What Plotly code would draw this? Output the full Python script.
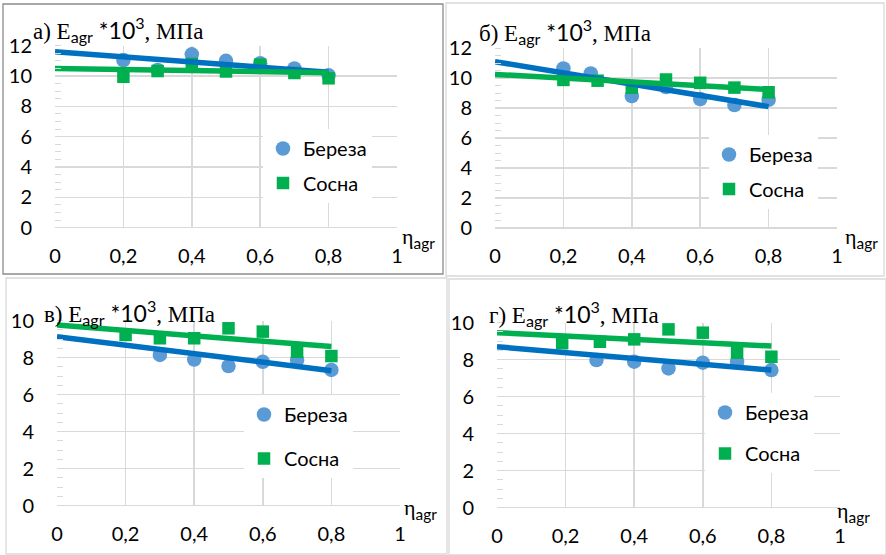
import plotly.graph_objects as go

W, H = 886, 555

# ---------------- data ----------------
panel_letters = ["а)", "б)", "в)", "г)"]
series_names = ["Береза", "Сосна"]
x_ticks = [0, 0.2, 0.4, 0.6, 0.8, 1]
x_tick_text = ["0", "0,2", "0,4", "0,6", "0,8", "1"]
y_ticks_ab = [0, 2, 4, 6, 8, 10, 12]
y_ticks_cd = [0, 2, 4, 6, 8, 10]

a_birch_x = [0.2, 0.3, 0.4, 0.5, 0.6, 0.7, 0.8]
a_birch_y = [11.05, 10.4, 11.43, 11.0, 10.85, 10.5, 10.05]
a_pine_x = [0.2, 0.3, 0.4, 0.5, 0.6, 0.7, 0.8]
a_pine_y = [9.95, 10.33, 10.8, 10.3, 10.75, 10.2, 9.85]
a_trend_x = [0, 0.8]
a_birch_trend = [11.6, 10.25]
a_pine_trend = [10.5, 10.22]

b_birch_x = [0.2, 0.28, 0.4, 0.5, 0.6, 0.7, 0.8]
b_birch_y = [10.64, 10.3, 8.8, 9.4, 8.6, 8.2, 8.55]
b_pine_x = [0.2, 0.3, 0.4, 0.5, 0.6, 0.7, 0.8]
b_pine_y = [9.87, 9.82, 9.35, 9.9, 9.68, 9.36, 9.05]
b_trend_x = [0, 0.8]
b_birch_trend = [11.09, 8.09]
b_pine_trend = [10.24, 9.24]

c_birch_x = [0.3, 0.4, 0.5, 0.6, 0.7, 0.8]
c_birch_y = [8.15, 7.9, 7.55, 7.78, 7.88, 7.34]
c_pine_x = [0.2, 0.3, 0.4, 0.5, 0.6, 0.7, 0.8]
c_pine_y = [9.23, 9.05, 9.05, 9.59, 9.41, 8.32, 8.09]
c_trend_x = [0, 0.8]
c_birch_trend = [9.14, 7.3]
c_pine_trend = [9.77, 8.6]

d_birch_x = [0.29, 0.4, 0.5, 0.6, 0.7, 0.8]
d_birch_y = [7.98, 7.89, 7.53, 7.84, 7.89, 7.44]
d_pine_x = [0.19, 0.3, 0.4, 0.5, 0.6, 0.7, 0.8]
d_pine_y = [8.89, 8.97, 9.1, 9.64, 9.46, 8.38, 8.16]
d_trend_x = [0, 0.8]
d_birch_trend = [8.7, 7.44]
d_pine_trend = [9.46, 8.74]

# ---------------- style ----------------
BIRCH = "#5B9BD5"
PINE = "#00B050"
BIRCH_LINE = "#0070C0"
PINE_LINE = "#00B050"
GRID = "#D9D9D9"
SANS = "Lato"
SERIF = "Liberation Serif"


def px_x(p):
    return p / W


def px_y(p):
    return (H - p) / H


panels = [
    dict(x=(55, 397), y=(227.7, 45.7), yr=12, yt=y_ticks_ab,
         bx=a_birch_x, by=a_birch_y, pxs=a_pine_x, py=a_pine_y,
         tx=a_trend_x, bt=a_birch_trend, pt=a_pine_trend,
         title=(31, 29), eta=(400, 238), leg=(263, 129), gap=5.5),
    dict(x=(495, 837), y=(228, 48), yr=12, yt=y_ticks_ab,
         bx=b_birch_x, by=b_birch_y, pxs=b_pine_x, py=b_pine_y,
         tx=b_trend_x, bt=b_birch_trend, pt=b_pine_trend,
         title=(477, 32), eta=(843, 238), leg=(709, 135), gap=5.5),
    dict(x=(57, 400), y=(505.7, 320.7), yr=10, yt=y_ticks_cd,
         bx=c_birch_x, by=c_birch_y, pxs=c_pine_x, py=c_pine_y,
         tx=c_trend_x, bt=c_birch_trend, pt=c_pine_trend,
         title=(42, 312), eta=(402, 509), leg=(244, 395), gap=15),
    dict(x=(497, 840), y=(507.7, 322.7), yr=10, yt=y_ticks_cd,
         bx=d_birch_x, by=d_birch_y, pxs=d_pine_x, py=d_pine_y,
         tx=d_trend_x, bt=d_birch_trend, pt=d_pine_trend,
         title=(487, 313), eta=(835, 512), leg=(705, 393), gap=12),
]

fig = go.Figure()
layout = dict(
    width=W, height=H, margin=dict(l=0, r=0, t=0, b=0, pad=0, autoexpand=False),
    paper_bgcolor="white", plot_bgcolor="white",
    font=dict(family=SANS, size=20, color="#000000"),
    annotations=[], shapes=[],
)

for i, p in enumerate(panels):
    n = "" if i == 0 else str(i + 1)
    xa, ya = "x" + n, "y" + n
    leg = "legend" + n
    fig.add_trace(go.Scatter(
        x=p["bx"], y=p["by"], mode="markers", name=series_names[0],
        marker=dict(symbol="circle", size=14.5, color=BIRCH),
        xaxis=xa, yaxis=ya, legend=leg, legendgroup="b" + n, cliponaxis=False))
    fig.add_trace(go.Scatter(
        x=p["pxs"], y=p["py"], mode="markers", name=series_names[1],
        marker=dict(symbol="square", size=12.5, color=PINE),
        xaxis=xa, yaxis=ya, legend=leg, legendgroup="p" + n, cliponaxis=False))
    fig.add_trace(go.Scatter(
        x=p["tx"], y=p["bt"], mode="lines", showlegend=False,
        line=dict(color=BIRCH_LINE, width=5.5), xaxis=xa, yaxis=ya, cliponaxis=False))
    fig.add_trace(go.Scatter(
        x=p["tx"], y=p["pt"], mode="lines", showlegend=False,
        line=dict(color=PINE_LINE, width=5.5), xaxis=xa, yaxis=ya, cliponaxis=False))

    layout["xaxis" + n] = dict(
        domain=[px_x(p["x"][0]), px_x(p["x"][1])], anchor=ya,
        range=[0, 1], tickvals=x_ticks, ticktext=x_tick_text,
        showgrid=True, gridcolor=GRID, gridwidth=1.5,
        zeroline=False, showline=False, ticks="", automargin=False,
        ticklabelstandoff=14, tickfont=dict(family=SANS, size=20),
        fixedrange=True)
    layout["yaxis" + n] = dict(
        domain=[px_y(p["y"][0]), px_y(p["y"][1])], anchor=xa,
        range=[0, p["yr"]], tickvals=p["yt"],
        showgrid=True, gridcolor=GRID, gridwidth=1.5,
        zeroline=True, zerolinecolor=GRID, zerolinewidth=1.5,
        showline=False, ticks="", automargin=False,
        minor=dict(dtick=0.5, ticks="inside", ticklen=6, tickcolor=GRID,
                   tickwidth=1, showgrid=False),
        ticklabelstandoff=22, tickfont=dict(family=SANS, size=20),
        fixedrange=True)
    layout[leg] = dict(
        x=px_x(p["leg"][0]), y=px_y(p["leg"][1]), xanchor="left", yanchor="top",
        bgcolor="white", borderwidth=0, traceorder="grouped",
        tracegroupgap=p["gap"], font=dict(family=SANS, size=20),
        itemclick=False, itemdoubleclick=False)

    title = (panel_letters[i] + " E<sub><span style='font-family:" + SANS + "'>agr</span></sub>"
             + "<span style='font-family:" + SANS + "'> *10<sup>3</sup></span>, МПа")
    layout["annotations"].append(dict(
        text=title, xref="paper", yref="paper",
        x=px_x(p["title"][0]), y=px_y(p["title"][1]),
        xanchor="left", yanchor="middle", showarrow=False,
        font=dict(family=SERIF, size=23, color="#000000")))
    layout["annotations"].append(dict(
        text="η<sub><span style='font-family:" + SANS + "'>agr</span></sub>",
        xref="paper", yref="paper",
        x=px_x(p["eta"][0]), y=px_y(p["eta"][1]),
        xanchor="left", yanchor="middle", showarrow=False,
        font=dict(family=SERIF, size=22, color="#000000")))

borders = [((3, 4, 443, 274), "#8C8C8C"), ((446, 3, 884, 276), GRID),
           ((6, 278, 447, 554), GRID), ((449, 279, 886, 555), GRID)]
for (x0, y0, x1, y1), col in borders:
    layout["shapes"].append(dict(
        type="rect", xref="paper", yref="paper",
        x0=px_x(x0), x1=px_x(x1), y0=px_y(y1), y1=px_y(y0),
        line=dict(color=col, width=1.3), fillcolor="rgba(0,0,0,0)", layer="below"))

fig.update_layout(**layout)
fig.write_html("out.html",
               config={"displayModeBar": False, "staticPlot": True},
               post_script="document.body.style.margin='0';document.body.style.overflow='hidden';")
